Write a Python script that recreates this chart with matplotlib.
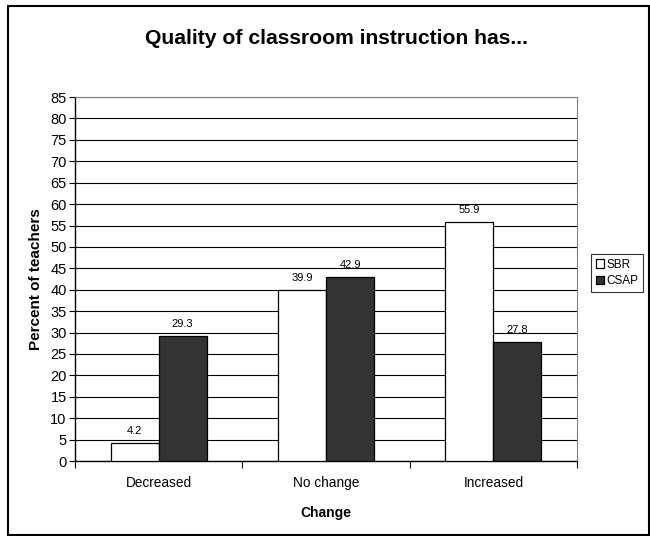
import matplotlib.pyplot as plt
from matplotlib.patches import Rectangle
import numpy as np

categories = ['Decreased', 'No change', 'Increased']
sbr = [4.2, 39.9, 55.9]
csap = [29.3, 42.9, 27.8]
y_ticks = list(range(0, 90, 5))

plt.rcParams['font.family'] = ['Liberation Sans', 'DejaVu Sans']

fig = plt.figure(figsize=(6.5, 5.36), dpi=100)
ax = fig.add_axes([0.1154, 0.1399, 0.7723, 0.679])

x = np.arange(len(categories))
w = 0.287
b1 = ax.bar(x - w / 2, sbr, w, color='white', edgecolor='black', linewidth=0.9, label='SBR', zorder=3)
b2 = ax.bar(x + w / 2, csap, w, color='#333333', edgecolor='black', linewidth=0.9, label='CSAP', zorder=3)

for bars, vals in ((b1, sbr), (b2, csap)):
    for rect, v in zip(bars, vals):
        ax.annotate('{:.1f}'.format(v), (rect.get_x() + rect.get_width() / 2, v),
                    xytext=(0, 5), textcoords='offset points',
                    ha='center', va='bottom', fontsize=8)

ax.set_xlim(-0.5, 2.5)
ax.set_ylim(0, 85)
ax.set_yticks(y_ticks)
ax.set_yticklabels([str(t) for t in y_ticks], fontsize=10.5)
ax.yaxis.grid(True, color='black', linewidth=0.8, zorder=0)
ax.tick_params(axis='y', direction='out', length=4, width=0.8, pad=2)

ax.set_xticks(x)
ax.set_xticklabels(categories, fontsize=9.8)
ax.set_xticks([-0.5, 0.5, 1.5, 2.5], minor=True)
ax.tick_params(axis='x', which='major', length=0, pad=11)
ax.tick_params(axis='x', which='minor', direction='out', length=5, width=0.8)

ax.set_xlabel('Change', fontsize=10, fontweight='bold', labelpad=11)
ax.set_ylabel('Percent of teachers', fontsize=11, fontweight='bold', labelpad=5)

for side in ('top', 'right'):
    ax.spines[side].set_color('#808080')
for side in ('left', 'bottom'):
    ax.spines[side].set_color('black')
    ax.spines[side].set_linewidth(1)

fig.text(0.517, 0.928, 'Quality of classroom instruction has...', ha='center', va='center',
         fontsize=15.2, fontweight='bold')

leg = fig.legend(handles=[b1, b2], labels=['SBR', 'CSAP'], loc='upper left',
                 bbox_to_anchor=(591 / 650, 1 - 254 / 536), fontsize=8.5,
                 frameon=True, fancybox=False, edgecolor='black',
                 handlelength=0.7, handleheight=0.7, handletextpad=0.2,
                 borderpad=0.4, labelspacing=0.4, borderaxespad=0)
leg.get_frame().set_linewidth(0.8)

fig.patches.append(Rectangle((8 / 650, 1 - 535 / 536), 641 / 650, 529 / 536,
                             transform=fig.transFigure, fill=False,
                             edgecolor='black', linewidth=1.5))

fig.savefig('out.png', dpi=100)
